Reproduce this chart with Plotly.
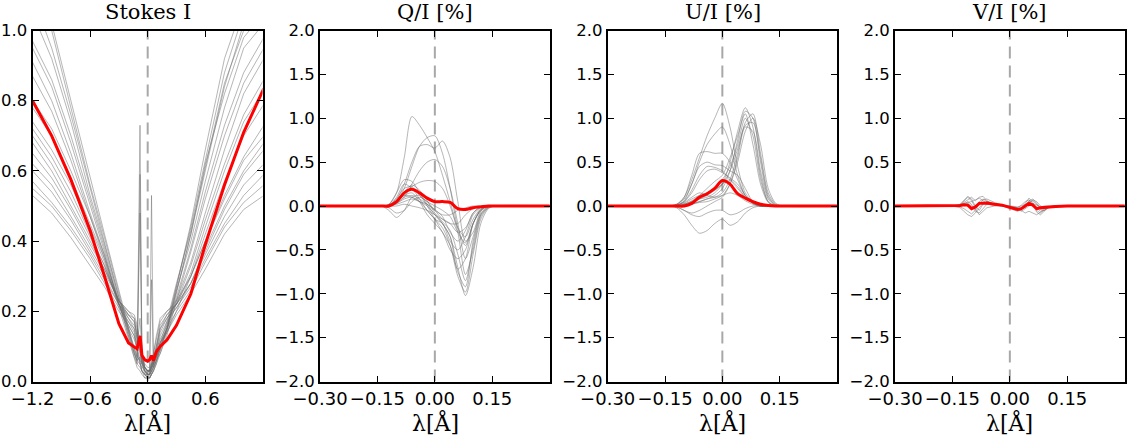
import plotly.graph_objects as go

# ---------------- data ----------------
# Stokes I wavelength grid and profiles
xI = [-1.20, -1.00, -0.80, -0.60, -0.45, -0.30, -0.20, -0.14, -0.11, -0.08, -0.06, -0.03,
      0.00, 0.02, 0.04, 0.06, 0.09, 0.13, 0.20, 0.30, 0.45, 0.60, 0.80, 1.00, 1.21]

I_g1 = [1.10, 1.02, 0.80, 0.58, 0.42, 0.26, 0.15, 0.09, 0.06, 0.05, 0.04, 0.03, 0.02, 0.02, 0.03, 0.04, 0.06, 0.09, 0.15, 0.26, 0.42, 0.60, 0.84, 1.02, 1.10]
I_g2 = [1.10, 0.95, 0.76, 0.55, 0.40, 0.24, 0.14, 0.08, 0.06, 0.73, 0.08, 0.04, 0.03, 0.03, 0.05, 0.05, 0.07, 0.10, 0.16, 0.27, 0.44, 0.63, 0.88, 1.05, 1.10]
I_g3 = [0.97, 0.86, 0.70, 0.52, 0.38, 0.23, 0.13, 0.07, 0.05, 0.59, 0.06, 0.03, 0.02, 0.02, 0.53, 0.04, 0.06, 0.08, 0.14, 0.25, 0.42, 0.62, 0.82, 0.98, 1.05]
I_g4 = [0.95, 0.84, 0.68, 0.50, 0.37, 0.22, 0.14, 0.09, 0.07, 0.48, 0.07, 0.04, 0.03, 0.03, 0.29, 0.05, 0.07, 0.09, 0.15, 0.26, 0.40, 0.57, 0.78, 0.95, 1.02]
I_g5 = [0.91, 0.80, 0.65, 0.48, 0.36, 0.22, 0.13, 0.08, 0.06, 0.07, 0.05, 0.04, 0.03, 0.03, 0.04, 0.05, 0.07, 0.10, 0.15, 0.24, 0.38, 0.54, 0.73, 0.88, 0.98]
I_g6 = [0.80, 0.72, 0.60, 0.47, 0.36, 0.22, 0.15, 0.12, 0.10, 0.18, 0.08, 0.05, 0.04, 0.04, 0.06, 0.07, 0.09, 0.12, 0.16, 0.23, 0.34, 0.48, 0.66, 0.82, 0.92]
I_g7 = [0.74, 0.66, 0.56, 0.44, 0.34, 0.22, 0.16, 0.13, 0.11, 0.12, 0.07, 0.04, 0.03, 0.03, 0.05, 0.06, 0.08, 0.11, 0.15, 0.22, 0.33, 0.46, 0.62, 0.76, 0.86]
I_g8 = [0.72, 0.64, 0.54, 0.42, 0.33, 0.22, 0.17, 0.15, 0.12, 0.10, 0.06, 0.03, 0.02, 0.02, 0.04, 0.06, 0.08, 0.11, 0.14, 0.20, 0.30, 0.42, 0.57, 0.70, 0.79]
I_g9 = [0.70, 0.62, 0.52, 0.41, 0.33, 0.23, 0.19, 0.17, 0.14, 0.10, 0.06, 0.03, 0.01, 0.02, 0.04, 0.07, 0.10, 0.15, 0.19, 0.22, 0.30, 0.40, 0.53, 0.64, 0.73]
I_g10 = [0.68, 0.60, 0.50, 0.40, 0.32, 0.23, 0.19, 0.18, 0.15, 0.12, 0.07, 0.04, 0.02, 0.02, 0.05, 0.08, 0.12, 0.17, 0.20, 0.23, 0.30, 0.40, 0.52, 0.63, 0.70]
I_g11 = [0.65, 0.58, 0.49, 0.39, 0.32, 0.23, 0.20, 0.18, 0.12, 0.08, 0.05, 0.03, 0.02, 0.02, 0.03, 0.05, 0.09, 0.15, 0.18, 0.21, 0.28, 0.37, 0.49, 0.59, 0.66]
I_g12 = [0.60, 0.54, 0.46, 0.37, 0.30, 0.22, 0.19, 0.17, 0.13, 0.09, 0.05, 0.02, 0.01, 0.01, 0.03, 0.06, 0.10, 0.16, 0.19, 0.22, 0.28, 0.36, 0.47, 0.56, 0.62]
I_g13 = [0.57, 0.51, 0.44, 0.36, 0.29, 0.22, 0.18, 0.15, 0.10, 0.06, 0.03, 0.02, 0.01, 0.01, 0.02, 0.04, 0.08, 0.13, 0.17, 0.21, 0.27, 0.35, 0.45, 0.53, 0.59]
I_g14 = [0.55, 0.50, 0.43, 0.35, 0.28, 0.21, 0.17, 0.14, 0.09, 0.05, 0.03, 0.01, 0.01, 0.01, 0.02, 0.03, 0.06, 0.11, 0.15, 0.20, 0.26, 0.34, 0.44, 0.51, 0.56]
I_g15 = [0.53, 0.48, 0.41, 0.33, 0.27, 0.20, 0.16, 0.13, 0.08, 0.05, 0.03, 0.02, 0.01, 0.01, 0.02, 0.03, 0.05, 0.10, 0.14, 0.19, 0.25, 0.32, 0.42, 0.49, 0.53]
I_g16 = [0.87, 0.77, 0.63, 0.47, 0.35, 0.21, 0.12, 0.07, 0.04, 0.03, 0.02, 0.01, 0.01, 0.01, 0.02, 0.03, 0.05, 0.08, 0.13, 0.23, 0.37, 0.52, 0.70, 0.85, 0.95]
I_g17 = [1.10, 1.00, 0.78, 0.56, 0.41, 0.25, 0.14, 0.08, 0.05, 0.04, 0.03, 0.02, 0.02, 0.02, 0.03, 0.04, 0.06, 0.09, 0.15, 0.27, 0.45, 0.66, 0.92, 1.08, 1.10]
I_g18 = [0.78, 0.70, 0.58, 0.45, 0.35, 0.23, 0.18, 0.16, 0.13, 0.09, 0.06, 0.04, 0.03, 0.03, 0.04, 0.06, 0.09, 0.14, 0.18, 0.22, 0.31, 0.44, 0.60, 0.74, 0.83]
I_g19 = [0.62, 0.56, 0.47, 0.38, 0.31, 0.23, 0.20, 0.19, 0.16, 0.11, 0.07, 0.04, 0.03, 0.03, 0.05, 0.08, 0.13, 0.18, 0.20, 0.22, 0.28, 0.38, 0.50, 0.60, 0.68]
I_g20 = [1.05, 0.92, 0.74, 0.53, 0.39, 0.24, 0.15, 0.10, 0.07, 0.06, 0.05, 0.04, 0.03, 0.03, 0.04, 0.05, 0.07, 0.11, 0.17, 0.28, 0.43, 0.61, 0.85, 1.00, 1.08]
I_mean = [0.80, 0.70, 0.575, 0.43, 0.30, 0.165, 0.11, 0.098, 0.093, 0.13, 0.075, 0.062, 0.058, 0.062, 0.074, 0.06, 0.085, 0.10, 0.118, 0.16, 0.25, 0.39, 0.56, 0.71, 0.835]

# Q/I and U/I wavelength grid and profiles (%)
xP = [-0.30, -0.16, -0.14, -0.12, -0.10, -0.08, -0.06, -0.04, -0.02, 0.00,
      0.02, 0.04, 0.06, 0.08, 0.10, 0.12, 0.14, 0.16, 0.30]

Q_g1 = [0, 0, 0, 0.02, 0.15, 0.55, 1.02, 0.92, 0.78, 0.62, 0.35, 0.05, -0.25, -0.35, -0.15, -0.03, 0, 0, 0]
Q_g2 = [0, 0, 0, 0.00, 0.05, 0.20, 0.45, 0.68, 0.78, 0.80, 0.60, 0.20, -0.25, -0.45, -0.20, -0.04, 0, 0, 0]
Q_g3 = [0, 0, 0, 0.01, 0.08, 0.25, 0.50, 0.68, 0.70, 0.66, 0.74, 0.55, 0.05, -0.40, -0.30, -0.06, 0, 0, 0]
Q_g4 = [0, 0, 0, 0.00, 0.03, 0.10, 0.25, 0.40, 0.50, 0.53, 0.45, 0.20, -0.20, -0.60, -0.35, -0.08, -0.01, 0, 0]
Q_g5 = [0, 0, 0, 0.00, 0.05, 0.15, 0.22, 0.27, 0.29, 0.28, 0.20, 0.00, -0.30, -0.78, -0.50, -0.12, -0.02, 0, 0]
Q_g6 = [0, 0, 0, 0.02, 0.15, 0.30, 0.28, 0.15, 0.02, -0.10, -0.20, -0.35, -0.70, -1.02, -0.70, -0.20, -0.03, 0, 0]
Q_g7 = [0, 0, 0, 0.01, 0.10, 0.25, 0.20, 0.08, -0.05, -0.15, -0.25, -0.45, -0.80, -0.98, -0.55, -0.15, -0.02, 0, 0]
Q_g8 = [0, 0, 0, -0.05, -0.13, -0.05, 0.10, 0.12, 0.00, -0.15, -0.30, -0.45, -0.75, -0.92, -0.40, -0.10, -0.01, 0, 0]
Q_g9 = [0, 0, 0, 0.00, 0.05, 0.12, 0.15, 0.05, -0.10, -0.20, -0.30, -0.50, -0.60, -0.50, -0.20, -0.05, 0, 0, 0]
Q_g10 = [0, 0, 0, 0.00, 0.03, 0.08, 0.10, 0.05, -0.05, -0.15, -0.20, -0.40, -0.50, -0.35, -0.10, -0.02, 0, 0, 0]
Q_g11 = [0, 0, 0, 0.00, 0.00, 0.02, 0.00, -0.02, -0.05, -0.10, -0.15, -0.20, -0.30, -0.25, -0.08, -0.01, 0, 0, 0]
Q_g12 = [0, 0, 0, 0.00, 0.02, 0.05, 0.08, 0.05, 0.02, -0.05, -0.10, -0.10, -0.05, -0.02, 0, 0, 0, 0, 0]
Q_g13 = [0, 0, 0, 0.01, 0.08, 0.20, 0.22, 0.12, 0.05, 0.00, -0.05, -0.12, -0.30, -0.42, -0.20, -0.05, 0, 0, 0]
Q_g14 = [0, 0, 0, 0.00, 0.05, 0.12, 0.10, 0.05, 0.00, -0.10, -0.20, -0.35, -0.72, -0.60, -0.20, -0.04, 0, 0, 0]
Q_g15 = [0, 0, 0, -0.02, -0.08, -0.05, 0.05, 0.10, 0.05, -0.05, -0.15, -0.20, -0.20, -0.10, -0.03, 0, 0, 0, 0]
Q_g16 = [0, 0, 0, 0.01, 0.06, 0.16, 0.24, 0.18, 0.06, -0.08, -0.18, -0.28, -0.55, -0.85, -0.45, -0.10, -0.01, 0, 0]
Q_g17 = [0, 0, 0, 0.00, 0.04, 0.10, 0.12, 0.08, 0.02, -0.04, -0.12, -0.30, -0.40, -0.28, -0.08, -0.01, 0, 0, 0]
Q_mean = [0, 0, 0, 0.00, 0.05, 0.15, 0.19, 0.15, 0.09, 0.05, 0.05, 0.04, -0.03, -0.04, -0.02, -0.01, 0, 0, 0]

U_g1 = [0, 0, 0, 0.02, 0.10, 0.30, 0.55, 0.80, 1.00, 1.17, 0.90, 0.45, 0.15, 0.05, 0.01, 0, 0, 0, 0]
U_g2 = [0, 0, 0, 0.02, 0.08, 0.25, 0.50, 0.70, 0.82, 0.90, 0.70, 0.35, 0.12, 0.04, 0, 0, 0, 0, 0]
U_g3 = [0, 0, 0, 0.01, 0.10, 0.35, 0.60, 0.62, 0.60, 0.60, 0.50, 0.30, 0.12, 0.03, 0, 0, 0, 0, 0]
U_g4 = [0, 0, 0, 0.01, 0.06, 0.25, 0.45, 0.50, 0.47, 0.46, 0.40, 0.35, 0.20, 0.05, 0.01, 0, 0, 0, 0]
U_g5 = [0, 0, 0, 0.00, 0.05, 0.15, 0.30, 0.40, 0.42, 0.38, 0.32, 0.25, 0.12, 0.04, 0, 0, 0, 0, 0]
U_g6 = [0, 0, 0, 0.00, 0.02, 0.05, 0.08, 0.10, 0.15, 0.25, 0.50, 0.85, 1.12, 0.90, 0.35, 0.05, 0, 0, 0]
U_g7 = [0, 0, 0, 0.00, 0.01, 0.03, 0.05, 0.08, 0.12, 0.20, 0.40, 0.75, 1.08, 1.00, 0.50, 0.10, 0.01, 0, 0]
U_g8 = [0, 0, 0, 0.00, 0.00, 0.02, 0.05, 0.08, 0.10, 0.15, 0.30, 0.60, 0.95, 1.05, 0.60, 0.15, 0.02, 0, 0]
U_g9 = [0, 0, 0, 0.00, 0.02, 0.05, 0.10, 0.15, 0.20, 0.30, 0.45, 0.70, 1.00, 0.80, 0.30, 0.05, 0, 0, 0]
U_g10 = [0, 0, 0, 0.00, 0.01, 0.04, 0.08, 0.12, 0.18, 0.25, 0.40, 0.65, 0.92, 0.95, 0.55, 0.12, 0.01, 0, 0]
U_g11 = [0, 0, 0, 0.00, 0.00, 0.02, 0.04, 0.05, 0.08, 0.12, 0.25, 0.50, 0.85, 1.00, 0.70, 0.20, 0.03, 0, 0]
U_g12 = [0, 0, 0, -0.01, -0.05, -0.08, -0.05, 0.00, 0.05, 0.10, 0.25, 0.55, 0.90, 0.85, 0.40, 0.08, 0, 0, 0]
U_g13 = [0, 0, 0, -0.02, -0.10, -0.22, -0.31, -0.28, -0.20, -0.15, -0.22, -0.18, -0.08, -0.02, 0, 0, 0, 0, 0]
U_g14 = [0, 0, 0, -0.01, -0.05, -0.10, -0.12, -0.08, -0.05, -0.05, -0.10, -0.08, -0.03, 0, 0, 0, 0, 0, 0]
U_g15 = [0, 0, 0, 0.00, 0.03, 0.08, 0.12, 0.15, 0.18, 0.25, 0.30, 0.22, 0.10, 0.03, 0, 0, 0, 0, 0]
U_g16 = [0, 0, 0, 0.01, 0.04, 0.10, 0.15, 0.12, 0.10, 0.12, 0.15, 0.12, 0.06, 0.02, 0, 0, 0, 0, 0]
U_g17 = [0, 0, 0, 0.00, 0.02, 0.06, 0.12, 0.20, 0.28, 0.35, 0.55, 0.80, 1.05, 0.70, 0.25, 0.04, 0, 0, 0]
U_g18 = [0, 0, 0, 0.01, 0.05, 0.18, 0.35, 0.45, 0.44, 0.40, 0.30, 0.20, 0.10, 0.03, 0, 0, 0, 0, 0]
U_mean = [0, 0, 0, 0.00, 0.00, 0.03, 0.10, 0.14, 0.20, 0.29, 0.25, 0.14, 0.09, 0.05, 0.02, 0.005, 0, 0, 0]

# V/I wavelength grid and profiles (%)
xV = [-0.30, -0.15, -0.13, -0.12, -0.11, -0.10, -0.09, -0.08, -0.07, -0.06, -0.04, -0.02, 0.00,
      0.02, 0.03, 0.04, 0.05, 0.06, 0.07, 0.08, 0.09, 0.10, 0.12, 0.15, 0.30]

V_g1 = [0, 0, 0.02, 0.06, 0.11, 0.08, 0.00, -0.05, 0.02, 0.05, 0.02, 0.00, -0.02, -0.05, -0.04, 0.00, 0.06, 0.08, 0.03, -0.02, -0.03, -0.01, 0, 0, 0]
V_g2 = [0, 0, -0.02, -0.06, -0.10, -0.12, -0.08, -0.02, 0.03, 0.02, 0.01, 0, 0, -0.02, -0.05, -0.08, -0.06, -0.08, -0.10, -0.07, -0.03, -0.01, 0, 0, 0]
V_g3 = [0, 0, 0.01, 0.04, 0.08, 0.10, 0.06, 0.10, 0.11, 0.06, 0.02, 0.00, -0.03, -0.06, -0.04, 0.00, 0.05, 0.06, 0.02, -0.04, -0.05, -0.02, 0, 0, 0]
V_g4 = [0, 0, 0, 0.02, 0.05, 0.02, -0.06, -0.08, -0.03, 0.02, 0.01, 0, -0.01, -0.03, -0.02, 0.03, 0.09, 0.04, -0.05, -0.08, -0.04, -0.01, 0, 0, 0]
V_g5 = [0, 0, -0.01, -0.03, -0.06, -0.09, -0.05, 0.05, 0.08, 0.05, 0.02, 0.01, 0, -0.01, 0.00, 0.02, 0.04, 0.02, -0.02, -0.06, -0.05, -0.02, 0, 0, 0]
V_g6 = [0, 0, 0.01, 0.05, 0.10, 0.06, -0.02, 0.02, 0.07, 0.08, 0.04, 0.01, -0.02, -0.04, -0.03, -0.02, 0.02, 0.07, 0.05, 0.00, -0.02, -0.01, 0, 0, 0]
V_g7 = [0, 0, 0, 0.01, 0.03, 0.00, -0.03, -0.10, -0.06, -0.02, 0, 0, -0.01, -0.02, 0.01, 0.05, 0.07, 0.02, -0.07, -0.10, -0.06, -0.02, 0, 0, 0]
V_g8 = [0, 0, 0.01, 0.03, 0.04, 0.05, 0.07, 0.09, 0.06, 0.03, 0.02, 0.01, -0.01, -0.03, -0.06, -0.03, 0.01, 0.03, 0.01, -0.01, 0, 0, 0, 0, 0]
V_mean = [0, 0, 0.005, 0.015, 0.01, -0.03, -0.01, 0.03, 0.035, 0.035, 0.02, 0.01, -0.015, -0.04, -0.03, 0.00, 0.03, 0.01, -0.03, -0.02, -0.015, -0.01, -0.005, 0, 0]

titles = ["Stokes I", "Q/I [%]", "U/I [%]", "V/I [%]"]
xlabel = "λ[Å]"
I_xticks = [-1.2, -0.6, 0.0, 0.6]
P_xticks = [-0.30, -0.15, 0.00, 0.15]
I_yticks = [0.0, 0.2, 0.4, 0.6, 0.8, 1.0]
P_yticks = [-2.0, -1.5, -1.0, -0.5, 0.0, 0.5, 1.0, 1.5, 2.0]

I_greys = [I_g1, I_g2, I_g3, I_g4, I_g5, I_g6, I_g7, I_g8, I_g9, I_g10, I_g11, I_g12, I_g13,
           I_g14, I_g15, I_g16, I_g17, I_g18, I_g19, I_g20]
Q_greys = [Q_g1, Q_g2, Q_g3, Q_g4, Q_g5, Q_g6, Q_g7, Q_g8, Q_g9, Q_g10, Q_g11, Q_g12, Q_g13,
           Q_g14, Q_g15, Q_g16, Q_g17]
U_greys = [U_g1, U_g2, U_g3, U_g4, U_g5, U_g6, U_g7, U_g8, U_g9, U_g10, U_g11, U_g12, U_g13,
           U_g14, U_g15, U_g16, U_g17, U_g18]
V_greys = [V_g1, V_g2, V_g3, V_g4, V_g5, V_g6, V_g7, V_g8]

# ---------------- figure ----------------
W, H = 1130, 436
top_px, bot_px = 30.5, 381.5
panels_px = [(32.5, 262.5), (320.0, 550.0), (607.7, 837.3), (895.0, 1125.0)]

GREY = "rgba(110,110,110,0.5)"
RED = "#ff0000"
XTICKFONT = dict(family="DejaVu Sans", size=18, color="black")
YTICKFONT = dict(family="DejaVu Sans", size=16.5, color="black")
SERIF = "DejaVu Serif"

fig = go.Figure()

panels = [
    (xI, I_greys, I_mean, "linear"),
    (xP, Q_greys, Q_mean, "spline"),
    (xP, U_greys, U_mean, "spline"),
    (xV, V_greys, V_mean, "linear"),
]

for k, (xs, greys, mean, shape) in enumerate(panels):
    ax = "" if k == 0 else str(k + 1)
    for g in greys:
        fig.add_trace(go.Scatter(x=xs, y=g, mode="lines", xaxis="x" + ax, yaxis="y" + ax,
                                 line=dict(color=GREY, width=1, shape=shape, smoothing=0.8),
                                 showlegend=False, hoverinfo="skip"))
    fig.add_trace(go.Scatter(x=xs, y=mean, mode="lines", xaxis="x" + ax, yaxis="y" + ax,
                             line=dict(color=RED, width=3, shape=shape, smoothing=0.8),
                             showlegend=False, hoverinfo="skip"))

layout = dict(width=W, height=H, margin=dict(l=0, r=0, t=0, b=0, autoexpand=False),
              paper_bgcolor="white", plot_bgcolor="white", showlegend=False)

ydom = [(H - bot_px) / H, (H - top_px) / H]
annotations = []
shapes = []
for k, (l, r) in enumerate(panels_px):
    ax = "" if k == 0 else str(k + 1)
    if k == 0:
        xr, xt, xf = [-1.2, 1.196], I_xticks, ".1f"
        yr, yt = [0.0, 1.0], I_yticks
    else:
        xr, xt, xf = [-0.30, 0.3008], P_xticks, ".2f"
        yr, yt = [-2.0, 2.0], P_yticks
    common = dict(showline=True, linecolor="black", linewidth=2, mirror="ticks",
                  ticks="inside", ticklen=6, tickwidth=1, tickcolor="black",
                  showgrid=False, zeroline=False, fixedrange=True, automargin=False)
    layout["xaxis" + ax] = dict(domain=[l / W, r / W], range=xr, tickvals=xt, tickformat=xf,
                                anchor="y" + ax, tickfont=XTICKFONT, **common)
    layout["yaxis" + ax] = dict(domain=ydom, range=yr, tickvals=yt, tickformat=".1f",
                                anchor="x" + ax, tickfont=YTICKFONT, **common)
    cx = (l + r) / 2 / W
    annotations.append(dict(text=titles[k], x=cx, y=1.0, xref="paper", yref="paper",
                            xanchor="center", yanchor="top", yshift=2, showarrow=False,
                            font=dict(family=SERIF, size=21, color="black")))
    annotations.append(dict(text=xlabel, x=cx, y=0.0, xref="paper", yref="paper",
                            xanchor="center", yanchor="bottom", yshift=-2, showarrow=False,
                            font=dict(family=SERIF, size=22, color="black")))
    shapes.append(dict(type="line", xref="x" + ax, yref="y" + ax, x0=0, x1=0, y0=yr[0], y1=yr[1],
                       line=dict(color="#a8a8a8", width=2, dash="12px,7px"), layer="below"))

layout["annotations"] = annotations
layout["shapes"] = shapes
fig.update_layout(**layout)

fig.write_html("out.html")
